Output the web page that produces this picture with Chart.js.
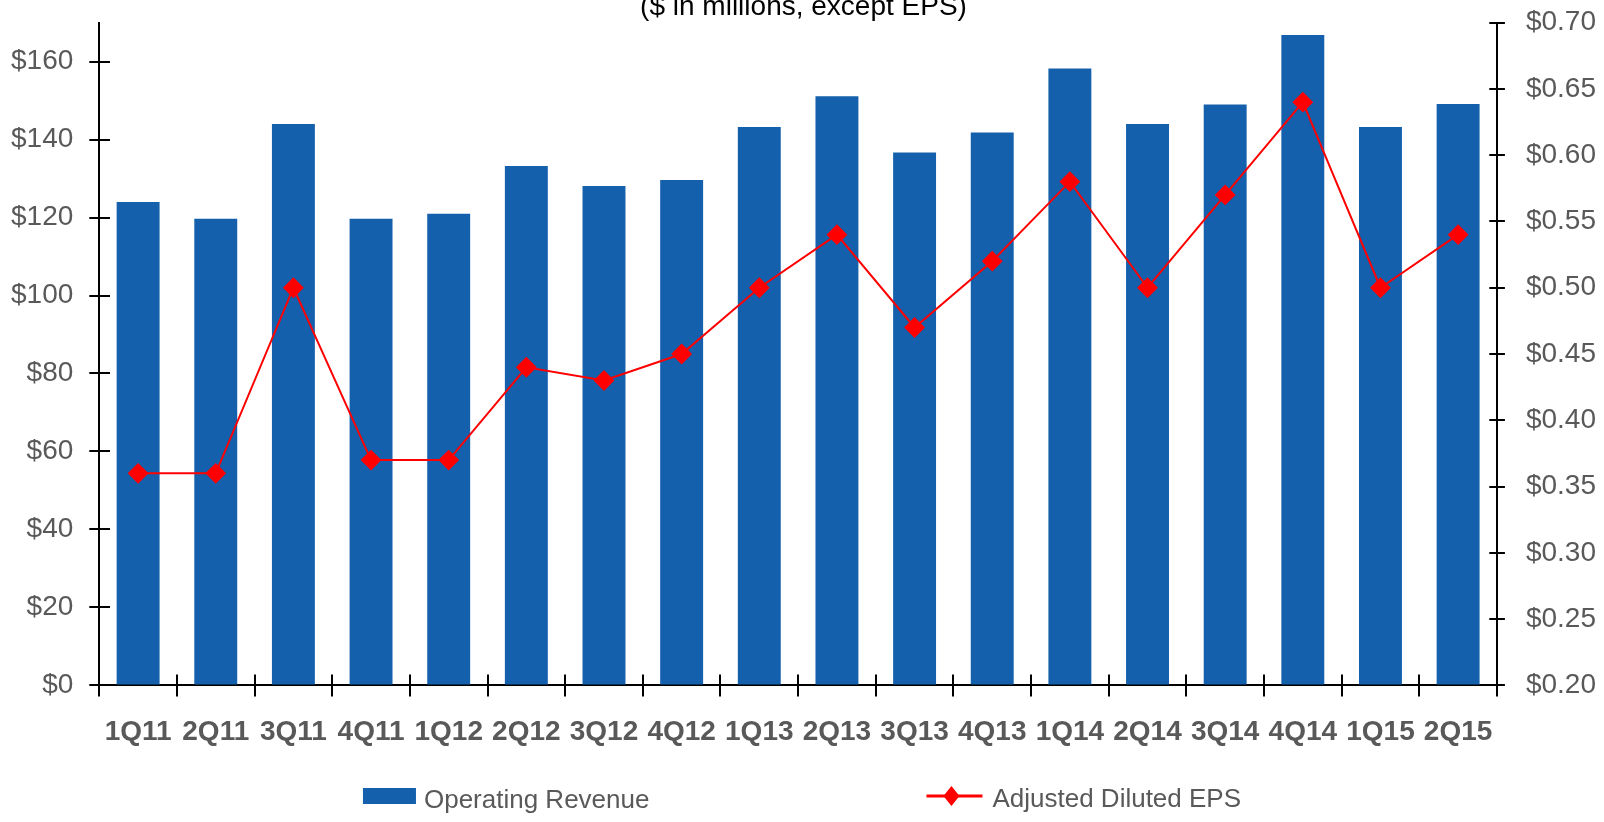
<!DOCTYPE html>
<html>
<head>
<meta charset="utf-8">
<script src="https://cdn.jsdelivr.net/npm/chart.js@4.4.0/dist/chart.umd.min.js"></script>
<style>
    html, body { margin: 0; padding: 0; background: #ffffff; }
    #grafico { width: 1604px; height: 822px; }
</style>
</head>
<body>
<div id="grafico"><canvas id="receitaEps"></canvas></div>
<script>
const trimestres = ["1Q11", "2Q11", "3Q11", "4Q11", "1Q12", "2Q12", "3Q12", "4Q12", "1Q13",
    "2Q13", "3Q13", "4Q13", "1Q14", "2Q14", "3Q14", "4Q14", "1Q15", "2Q15"];
const receita = [124, 119.7, 144, 119.7, 121, 133.2, 128.1, 129.6, 143.2,
    151.1, 136.7, 141.8, 158.2, 144, 149, 166.8, 143.2, 149.1];
const eps = [0.36, 0.36, 0.50, 0.37, 0.37, 0.44, 0.43, 0.45, 0.50,
    0.54, 0.47, 0.52, 0.58, 0.50, 0.57, 0.64, 0.50, 0.54];
const ticksReceita = [0, 20, 40, 60, 80, 100, 120, 140, 160];
const rotuloReceita = "Operating Revenue";
const rotuloEps = "Adjusted Diluted EPS";
const titulo = "($ in millions, except EPS)";

const fonte = "'Liberation Sans', Arial, sans-serif";
const cinza = '#595959';
const azul = '#1560ac';
const vermelho = '#ff0000';

// o Chart.js reserva o padding dos rotulos duas vezes e ainda empurra a area;
// aqui fica so o que e desenhado de verdade
function semFolga(eixo) {
    const pad = eixo.options.ticks.padding;
    if (eixo.isHorizontal()) {
        eixo.height -= pad;
    } else {
        eixo.width -= pad;
    }
    eixo.paddingTop = 0;
    eixo.paddingBottom = 0;
    eixo.paddingLeft = 0;
    eixo.paddingRight = 0;
}

// legenda desenhada embaixo, com linha + losango para o EPS
const legendaInferior = {
    id: 'legendaInferior',
    afterDraw(chart) {
        const ctx = chart.ctx;
        const barras = chart.data.datasets[1];
        const linha = chart.data.datasets[0];
        ctx.save();
        ctx.font = '26px ' + fonte;
        const largura1 = 53 + 8 + ctx.measureText(barras.label).width;
        const largura2 = 56 + 10 + ctx.measureText(linha.label).width;
        const espaco = 277;
        let x = chart.width / 2 - (largura1 + espaco + largura2) / 2;
        const y = chart.height - 26;

        ctx.fillStyle = barras.backgroundColor;
        ctx.fillRect(x, y - 8, 53, 16);
        ctx.fillStyle = cinza;
        ctx.textBaseline = 'middle';
        ctx.fillText(barras.label, x + 61, y + 5);

        x += largura1 + espaco;
        ctx.strokeStyle = linha.borderColor;
        ctx.lineWidth = 3;
        ctx.beginPath();
        ctx.moveTo(x, y);
        ctx.lineTo(x + 56, y);
        ctx.stroke();
        ctx.fillStyle = linha.pointBackgroundColor;
        ctx.beginPath();
        ctx.moveTo(x + 25, y - 10);
        ctx.lineTo(x + 33, y);
        ctx.lineTo(x + 25, y + 10);
        ctx.lineTo(x + 17, y);
        ctx.closePath();
        ctx.fill();
        ctx.fillStyle = cinza;
        ctx.fillText(linha.label, x + 66, y + 4);
        ctx.restore();
    }
};

new Chart(document.getElementById("receitaEps"), {
    type: 'bar',
    data: {
        labels: trimestres,
        datasets: [
            {
                type: 'line',
                label: rotuloEps,
                data: eps,
                yAxisID: 'yEps',
                borderColor: vermelho,
                backgroundColor: vermelho,
                pointBackgroundColor: vermelho,
                pointBorderColor: vermelho,
                borderWidth: 2,
                pointStyle: 'rectRot',
                pointRadius: 9,
                pointHoverRadius: 9,
                tension: 0,
                order: 0
            },
            {
                label: rotuloReceita,
                data: receita,
                yAxisID: 'y',
                backgroundColor: azul,
                borderWidth: 0,
                categoryPercentage: 1,
                barPercentage: 0.553,
                order: 1
            }
        ]
    },
    options: {
        responsive: true,
        maintainAspectRatio: false,
        animation: false,
        layout: { padding: { left: 11, right: 8, top: 0, bottom: 73 } },
        plugins: {
            legend: { display: false },
            tooltip: { enabled: false },
            title: {
                display: true,
                text: titulo,
                color: '#000000',
                font: { family: fonte, size: 28, weight: 'normal' },
                padding: { top: -10, bottom: -1 }
            }
        },
        scales: {
            x: {
                afterFit: semFolga,
                grid: {
                    offset: true,
                    drawOnChartArea: true,
                    color: '#000000',
                    lineWidth: 2,
                    tickLength: 11
                },
                border: { color: '#000000', width: 2, dash: [0, 652, 11, 2000] },
                ticks: {
                    color: cinza,
                    padding: 19,
                    maxRotation: 0,
                    autoSkip: false,
                    font: { family: fonte, size: 28, weight: 'bold' }
                }
            },
            y: {
                position: 'left',
                min: 0,
                max: 170,
                afterFit: semFolga,
                afterBuildTicks: (eixo) => {
                    eixo.ticks = ticksReceita.map(v => ({ value: v }));
                },
                grid: {
                    drawOnChartArea: true,
                    color: '#000000',
                    lineWidth: 2,
                    tickLength: 10
                },
                border: { color: '#000000', width: 2, dash: [10, 3000] },
                ticks: {
                    color: cinza,
                    padding: 16,
                    font: { family: fonte, size: 28 },
                    callback: (v) => '$' + v
                }
            },
            yEps: {
                position: 'right',
                min: 0.2,
                max: 0.7,
                afterFit: semFolga,
                grid: {
                    drawOnChartArea: true,
                    color: '#000000',
                    lineWidth: 2,
                    tickLength: 8
                },
                border: { color: '#000000', width: 2, dash: [0, 1390, 8, 3000] },
                ticks: {
                    stepSize: 0.05,
                    color: cinza,
                    padding: 21,
                    font: { family: fonte, size: 28 },
                    callback: (v) => '$' + Number(v).toFixed(2)
                }
            }
        }
    },
    plugins: [legendaInferior]
});
</script>
</body>
</html>
